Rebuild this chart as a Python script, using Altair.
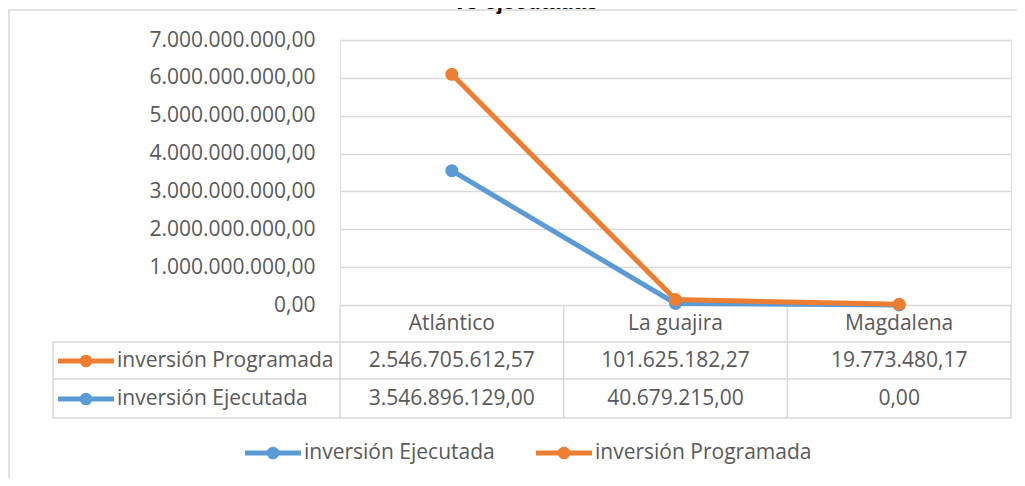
import altair as alt
import pandas as pd

regions = ["Atlántico", "La guajira", "Magdalena"]
series = ["inversión Ejecutada", "inversión Programada"]
ejecutada = [3546896129.00, 40679215.00, 0.00]
programada = [2546705612.57, 101625182.27, 19773480.17]
y_ticks = [0, 1e9, 2e9, 3e9, 4e9, 5e9, 6e9, 7e9]
colors = ["#5B9BD5", "#ED7D31"]
title_text = "vs ejecutadas"

rows = []
for i, r in enumerate(regions):
    rows.append({"region": r, "serie": series[0], "value": ejecutada[i], "order": 0})
    rows.append({"region": r, "serie": series[1], "value": programada[i], "order": 1})
df = pd.DataFrame(rows)

FONT = "Open Sans"
TXT = "#595959"
GRID = "#d9d9d9"
FS = 21
W, H = 671, 265

color = alt.Color("serie:N", scale=alt.Scale(domain=series, range=colors), legend=None)
xenc = alt.X("region:N", sort=regions, scale=alt.Scale(type="point", padding=0.5), axis=None)
one = pd.DataFrame({"k": [0]})


def hline(y, x1, x2):
    return alt.Chart(one).mark_rule(color=GRID, strokeWidth=1.5).encode(
        x=alt.value(x1), x2=alt.value(x2), y=alt.value(y))


def vline(x, y1, y2):
    return alt.Chart(one).mark_rule(color=GRID, strokeWidth=1.5).encode(
        x=alt.value(x), y=alt.value(y1), y2=alt.value(y2))


def symbol(serie, xc, y):
    d = pd.DataFrame({"serie": [serie]})
    ln = alt.Chart(d).mark_rule(strokeWidth=5).encode(
        x=alt.value(xc - 28), x2=alt.value(xc + 28), y=alt.value(y), color=color)
    pt = alt.Chart(d).mark_point(filled=True, size=160, opacity=1).encode(
        x=alt.value(xc), y=alt.value(y), color=color)
    tx = alt.Chart(d).mark_text(font=FONT, fontSize=FS, color=TXT, align="left",
                                baseline="middle").encode(
        x=alt.value(xc + 31), y=alt.value(y), text="serie:N")
    return ln + pt + tx


base = alt.Chart(df)

lines = base.transform_stack(
    stack="value", groupby=["region"], as_=["y0", "y1"],
    sort=[alt.SortField(field="order", order="ascending")]
).mark_line(strokeWidth=5, point=alt.OverlayMarkDef(filled=True, size=170, opacity=1)).encode(
    x=xenc,
    y=alt.Y("y1:Q", scale=alt.Scale(domain=[0, 7e9], nice=False),
            axis=alt.Axis(values=y_ticks, format=",.2f", title=None, domain=False,
                          ticks=False, grid=True, gridColor=GRID, gridWidth=1.5,
                          labelFont=FONT, labelFontSize=FS, labelColor=TXT,
                          labelPadding=25)),
    color=color,
)

header = alt.Chart(pd.DataFrame({"region": regions})).mark_text(
    font=FONT, fontSize=FS, color=TXT, baseline="middle").encode(
    x=xenc, y=alt.value(284), text="region:N")

prog_txt = base.transform_filter(alt.datum.serie == series[1]).mark_text(
    font=FONT, fontSize=FS, color=TXT, baseline="middle").encode(
    x=xenc, y=alt.value(321), text=alt.Text("value:Q", format=",.2f"))

ejec_txt = base.transform_filter(alt.datum.serie == series[0]).mark_text(
    font=FONT, fontSize=FS, color=TXT, baseline="middle").encode(
    x=xenc, y=alt.value(359), text=alt.Text("value:Q", format=",.2f"))

title = alt.Chart(one).mark_text(font="Liberation Sans", fontSize=22, fontWeight="bold",
                                 color="#000000", baseline="alphabetic").encode(
    x=alt.value(186), y=alt.value(-31.5), text=alt.value(title_text))

PAD_L, PAD_T, PAD_R, PAD_B = 332, 32, 6, 173

grid = [
    hline(-30, -PAD_L, W + PAD_R), vline(-331, -30, H + PAD_B),
    hline(302, -287, W), hline(339, -287, W), hline(378, -287, W),
    vline(-287, 302, 378), vline(0, 265, 378), vline(W / 3, 265, 378),
    vline(2 * W / 3, 265, 378), vline(W, 265, 378),
]

chart = alt.layer(
    *grid,
    header, prog_txt, ejec_txt,
    symbol(series[1], -254, 321), symbol(series[0], -254, 359),
    symbol(series[0], -67, 413), symbol(series[1], 224, 413),
    title,
    lines,
).properties(
    width=W, height=H,
    autosize=alt.AutoSizeParams(type="none"),
    padding={"left": PAD_L, "top": PAD_T, "right": PAD_R, "bottom": PAD_B},
    background="white",
).configure_view(stroke=None).configure(
    locale={"number": {"decimal": ",", "thousands": ".", "grouping": [3],
                       "currency": ["$", ""]}}
)

chart.save("out.html", embed_options={"renderer": "svg", "actions": False})
